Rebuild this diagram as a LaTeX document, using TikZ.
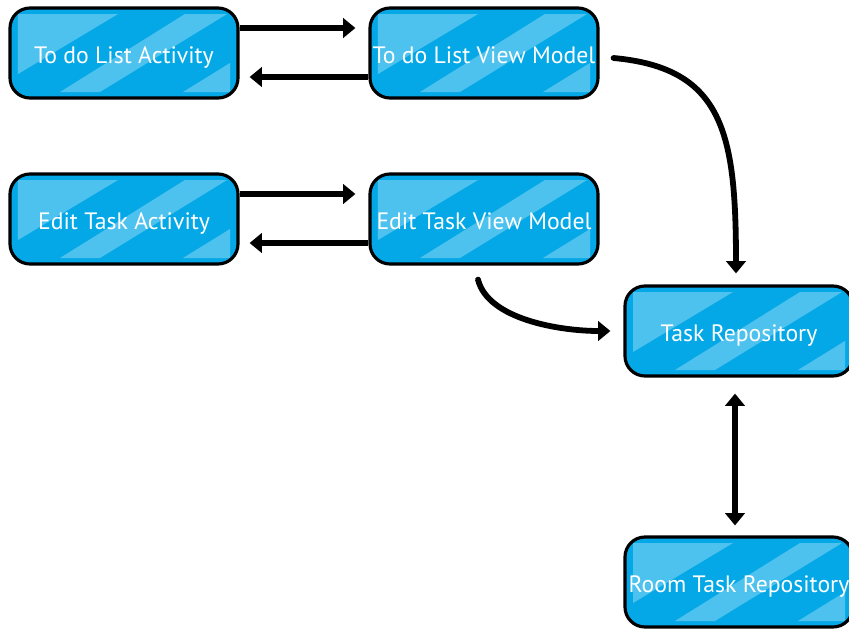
\documentclass[tikz,border=0pt]{standalone}
\usepackage{fontspec}
\usepackage{tikz}
\usetikzlibrary{arrows.meta,positioning,calc}
\newfontfamily\hand{PT Sans}
\definecolor{boxblue}{HTML}{05A8E6}
\definecolor{gloss}{HTML}{4EC2EE}

\begin{document}
\begin{tikzpicture}[x=0.2mm, y=-0.2mm,
    box/.style={draw=black, line width=1.8pt, fill=boxblue, rounded corners=4mm,
      minimum width=45.6mm, minimum height=18mm, inner sep=0pt, text=white,
      text height=4mm, text depth=0pt,
      font=\hand\fontsize{13.5}{16}\selectfont,
      path picture={
        \coordinate (ppc) at (path picture bounding box.center);
        \fill[gloss, sharp corners] ($(ppc)+(-21.2mm,7.8mm)$) -- ($(ppc)+(-1.2mm,7.8mm)$)
             -- ($(ppc)+(-21.2mm,-4.2mm)$) -- cycle;
        \fill[gloss, sharp corners] ($(ppc)+(-12.8mm,-7.8mm)$) -- ($(ppc)+(12.2mm,7.8mm)$)
             -- ($(ppc)+(20.6mm,7.8mm)$) -- ($(ppc)+(-4.8mm,-7.8mm)$) -- cycle;
        \fill[gloss, sharp corners] ($(ppc)+(11.8mm,-7.8mm)$) -- ($(ppc)+(21.2mm,-7.8mm)$)
             -- ($(ppc)+(21.2mm,-2mm)$) -- cycle;}},
    link/.style={line width=3.3pt, -{Triangle[length=7pt, width=11pt]}},
    both/.style={line width=3.3pt, {Triangle[length=7pt, width=11pt]}-{Triangle[length=7pt, width=11pt]}}]
  \useasboundingbox (0,0) rectangle (849,628);
  % boxes
  \foreach \n/\x/\y/\lab in {act/124/53/To do List Activity, vm/484/53/To do List View Model,
                             editact/124/219/Edit Task Activity, editvm/484/219/Edit Task View Model,
                             repo/739/331/Task Repository, room/739/582/Room Task Repository}{
    \node[box] (\n) at (\x,\y) {\lab};}
  % activity <-> view model
  \foreach \a/\b in {act/vm, editact/editvm}{
    \draw[link] ([yshift=5mm]\a.east) -- ([yshift=5mm, xshift=-2.6mm]\b.west);
    \draw[link] ([yshift=-4.8mm]\b.west) -- ([yshift=-4.8mm, xshift=2mm]\a.east);}
  % view models -> repository
  \draw[link, line cap=round] ([xshift=2.8mm, yshift=-1mm]vm.east)
        .. controls +(22mm,-2mm) and +(0,28mm) .. ([xshift=-0.6mm, yshift=2.2mm]repo.north);
  \draw[link, line cap=round] ([xshift=-1.2mm, yshift=-2.8mm]editvm.south)
        .. controls +(2mm,-8mm) and +(-10mm,0) .. ([xshift=-2.6mm]repo.west);
  % repository <-> room
  \draw[both] ([xshift=-0.8mm, yshift=-3.2mm]repo.south) -- ([xshift=-0.8mm, yshift=2mm]room.north);
\end{tikzpicture}
\end{document}
